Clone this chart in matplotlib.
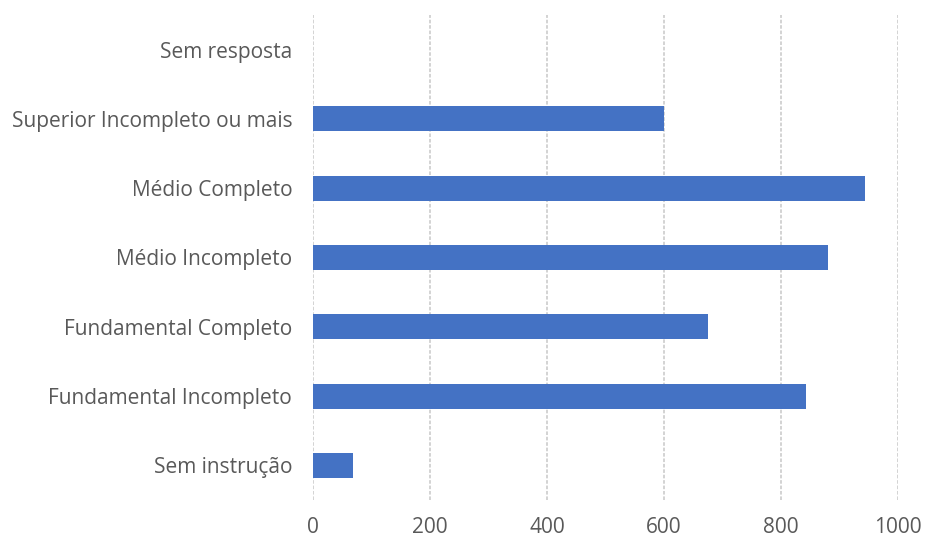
import matplotlib
matplotlib.use('Agg')
import matplotlib.pyplot as plt

# dados (de baixo para cima)
categorias = ['Sem instrução', 'Fundamental Incompleto', 'Fundamental Completo',
              'Médio Incompleto', 'Médio Completo', 'Superior Incompleto ou mais',
              'Sem resposta']
valores = [68, 842, 676, 880, 943, 600, 0]
xticks = [0, 200, 400, 600, 800, 1000]

plt.rcParams['font.family'] = ['Open Sans', 'DejaVu Sans']

fig = plt.figure(figsize=(9.27, 5.41), dpi=100)
ax = fig.add_axes([0.3377, 0.0758, 0.631, 0.8965])

ax.barh(range(len(categorias)), valores, height=0.36, color='#4472C4',
        linewidth=0, zorder=3)

ax.set_xlim(0, 1000)
ax.set_ylim(-0.5, len(categorias) - 0.5)
ax.set_xticks(xticks)
ax.set_yticks(range(len(categorias)))
ax.set_yticklabels(categorias)

ax.grid(axis='x', color='#d0d0d0', linestyle=(0, (2, 1)), linewidth=1.3, zorder=0)
ax.tick_params(axis='both', length=0, labelsize=15, colors='#595959')
ax.tick_params(axis='x', pad=12)
ax.tick_params(axis='y', pad=15)
for s in ax.spines.values():
    s.set_visible(False)

fig.savefig('out.png', dpi=100)
